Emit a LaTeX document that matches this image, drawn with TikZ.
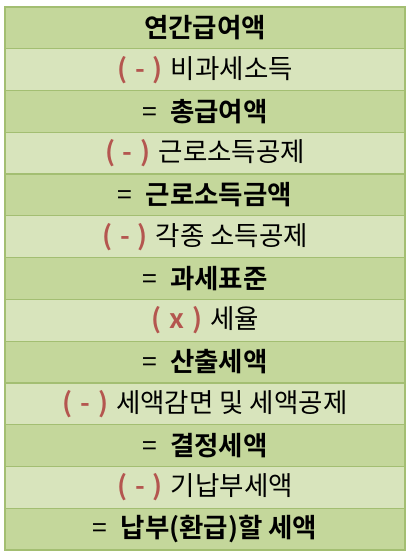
\documentclass[tikz,border=0pt]{standalone}
\usepackage{fontspec}
\setmainfont{Noto Sans CJK KR}[BoldFont={Noto Sans CJK KR Bold}]
\definecolor{darkrow}{HTML}{C4D79B}
\definecolor{lightrow}{HTML}{D8E4BC}
\definecolor{rowline}{HTML}{A3BE72}
\definecolor{opred}{HTML}{B4564F}
\begin{document}
\begin{tikzpicture}[x=1pt,y=1pt,
  rowbox/.style={draw=rowline,line width=1.2pt,minimum width=400pt,minimum height=41.77pt,inner sep=0pt,outer sep=0pt,anchor=north west,font=\fontsize{26.5}{30}\selectfont},
  sumrow/.style={rowbox,fill=darkrow},
  subrow/.style={rowbox,fill=lightrow}]
\useasboundingbox (0,0) rectangle (409,-556);
\fill[white] (0,0) rectangle (409,-556);
\newcommand\opsign[1]{{\color{opred}\bfseries (\hspace{0.3em}#1\hspace{0.3em})}\hspace{0.3em}}
\newcommand\eqsign{=\hspace{0.5em}}
\node[sumrow] (r1)  at (5,-7.0)   {\bfseries 연간급여액};
\node[subrow] (r2)  at (5,-48.77) {\opsign{-}비과세소득};
\node[sumrow] (r3)  at (5,-90.54) {\eqsign\textbf{총급여액}};
\node[subrow] (r4)  at (5,-132.31) {\opsign{-}근로소득공제};
\node[sumrow] (r5)  at (5,-174.08) {\eqsign\textbf{근로소득금액}};
\node[subrow] (r6)  at (5,-215.85) {\opsign{-}각종 소득공제};
\node[sumrow] (r7)  at (5,-257.62) {\eqsign\textbf{과세표준}};
\node[subrow] (r8)  at (5,-299.39) {\opsign{x}세율};
\node[sumrow] (r9)  at (5,-341.16) {\eqsign\textbf{산출세액}};
\node[subrow] (r10) at (5,-382.93) {\opsign{-}세액감면 및 세액공제};
\node[sumrow] (r11) at (5,-424.70) {\eqsign\textbf{결정세액}};
\node[subrow] (r12) at (5,-466.47) {\opsign{-}기납부세액};
\node[sumrow] (r13) at (5,-508.24) {\eqsign\textbf{납부(환급)할 세액}};
\end{tikzpicture}
\end{document}
